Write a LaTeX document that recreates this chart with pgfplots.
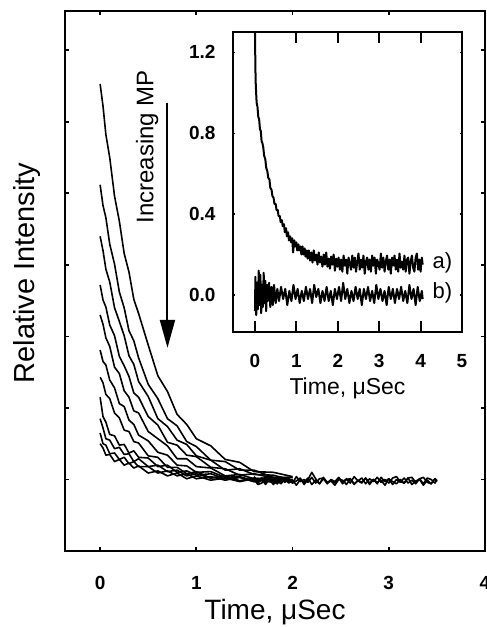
\documentclass[border=0pt]{standalone}
\usepackage{fontspec}
\setmainfont{Liberation Sans}
\usepackage{pgfplots}
\pgfplotsset{compat=1.18}
\usepackage{pgfplotstable}
\usetikzlibrary{arrows.meta}

\pgfplotstableread{
t c1 c2 c3 c4 c5 c6 c7 c8 c9 c10 c11
0.00 6.53 5.12 4.40 3.72 3.30 2.81 2.43 2.15 1.85 1.65 1.50
0.03 6.22 4.83 4.20 3.51 3.17 2.65 2.35 1.88 1.72 1.50 1.44
0.06 5.82 4.66 3.94 3.41 2.98 2.60 2.19 1.80 1.57 1.48 1.34
0.10 5.50 4.29 3.76 3.16 2.86 2.39 2.13 1.63 1.55 1.36 1.35
0.15 4.96 4.01 3.40 3.01 2.57 2.28 1.93 1.61 1.43 1.37 1.25
0.20 4.61 3.62 3.21 2.72 2.48 2.06 1.86 1.48 1.45 1.28 1.28
0.25 4.16 3.40 3.01 2.59 2.24 2.02 1.69 1.49 1.35 1.31 1.20
0.30 3.90 3.08 2.73 2.44 2.15 1.83 1.67 1.37 1.36 1.22 1.23
0.35 3.52 2.94 2.61 2.21 1.96 1.77 1.53 1.40 1.25 1.25 1.16
0.40 3.32 2.70 2.37 2.15 1.93 1.62 1.51 1.31 1.29 1.18 1.19
0.50 2.88 2.33 2.16 1.88 1.67 1.54 1.33 1.30 1.18 1.18 1.09
0.60 2.45 2.13 1.85 1.76 1.57 1.38 1.31 1.18 1.20 1.09 1.12
0.70 2.23 1.85 1.74 1.52 1.47 1.34 1.17 1.20 1.11 1.12 1.05
0.80 1.91 1.75 1.55 1.48 1.29 1.20 1.17 1.10 1.13 1.05 1.09
0.90 1.77 1.53 1.49 1.34 1.29 1.19 1.08 1.12 1.05 1.08 1.01
1.00 1.57 1.46 1.33 1.32 1.18 1.10 1.11 1.06 1.08 1.01 1.05
1.15 1.47 1.27 1.27 1.17 1.16 1.11 1.02 1.08 1.02 1.04 0.99
1.30 1.28 1.25 1.13 1.15 1.05 1.03 1.05 1.01 1.05 0.99 1.02
1.45 1.24 1.13 1.15 1.06 1.07 1.04 0.98 1.03 0.98 1.03 0.97
1.60 1.11 1.13 1.07 1.08 1.01 0.98 1.01 0.97 1.02 0.97 1.01
1.80 1.10 1.03 1.06 1.02 1.03 1.01 0.96 1.01 0.98 1.01 0.96
2.00 1.04 1.03 0.99 1.03 0.98 0.99 0.99 0.97 1.00 0.96 0.99
}\maincurves

\pgfplotstableread{
t y1 y2 y3
1.60 1.02 1.00 1.04
1.64 0.95 0.93 0.97
1.68 1.00 0.95 1.02
1.72 0.93 1.02 0.96
1.76 1.01 1.00 0.99
1.80 0.99 0.93 1.03
1.84 0.94 0.98 0.94
1.88 1.03 0.94 1.01
1.92 0.96 1.01 0.98
1.96 1.01 0.95 1.02
2.00 0.95 0.99 0.95
2.04 0.98 0.92 1.04
2.08 1.02 1.00 0.97
2.12 0.93 0.96 1.00
2.16 1.00 1.02 0.96
2.20 1.10 0.93 1.03
2.24 1.01 0.99 0.95
2.28 0.94 0.94 1.01
2.32 1.03 1.01 1.02
2.36 0.96 0.95 0.94
2.40 0.99 0.98 1.00
2.44 0.95 0.92 0.97
2.48 1.02 1.00 1.03
2.52 0.94 0.99 0.96
2.56 1.00 0.93 1.01
2.60 1.01 1.01 0.95
2.64 0.93 0.94 1.04
2.68 0.99 0.98 0.98
2.72 0.96 0.95 1.02
2.76 1.02 1.02 0.94
2.80 0.95 0.93 1.01
2.84 1.00 1.00 0.97
2.88 0.94 0.96 1.03
2.92 1.03 0.99 0.96
2.96 0.97 0.92 1.00
3.00 1.01 1.01 0.95
3.04 0.93 0.97 1.02
3.08 1.00 0.94 1.04
3.12 0.96 1.00 0.97
3.16 1.02 0.95 0.95
3.20 0.95 1.02 1.02
3.24 0.99 0.93 1.03
3.28 0.94 0.98 0.96
3.32 1.01 1.00 1.01
3.36 1.03 0.92 0.94
3.40 0.96 0.99 1.02
3.44 0.94 0.94 1.00
3.48 1.01 1.01 0.95
3.50 0.98 0.97 1.00
}\tailcurves

\pgfplotstableread{
t y
0.00 1.30
0.01 1.12
0.02 1.03
0.03 0.99
0.04 0.95
0.06 0.93
0.08 0.88
0.10 0.87
0.12 0.82
0.14 0.81
0.16 0.76
0.18 0.75
0.20 0.73
0.22 0.69
0.25 0.67
0.27 0.63
0.30 0.61
0.32 0.58
0.35 0.57
0.37 0.53
0.40 0.52
0.42 0.49
0.45 0.48
0.47 0.45
0.50 0.45
0.52 0.42
0.55 0.42
0.57 0.39
0.60 0.39
0.62 0.36
0.65 0.37
0.67 0.34
0.70 0.35
0.72 0.31
0.75 0.33
0.77 0.29
0.80 0.31
0.82 0.27
0.85 0.29
0.87 0.26
0.90 0.28
0.92 0.21
0.95 0.27
0.97 0.24
1.00 0.26
1.02 0.22
1.05 0.25
1.07 0.22
1.10 0.24
1.12 0.20
1.15 0.24
1.17 0.20
1.20 0.23
1.22 0.19
1.25 0.22
1.27 0.18
1.30 0.22
1.33 0.17
1.36 0.21
1.39 0.16
1.42 0.22
1.45 0.17
1.48 0.20
1.51 0.15
1.54 0.21
1.57 0.16
1.60 0.19
1.63 0.14
1.66 0.20
1.69 0.15
1.72 0.21
1.75 0.14
1.78 0.18
1.81 0.13
1.84 0.19
1.87 0.15
1.90 0.20
1.93 0.12
1.96 0.18
1.99 0.14
2.02 0.185
2.05 0.125
2.08 0.175
2.11 0.115
2.14 0.195
2.17 0.145
2.20 0.175
2.23 0.105
2.26 0.185
2.29 0.155
2.32 0.125
2.35 0.195
2.38 0.135
2.41 0.185
2.44 0.115
2.47 0.165
2.50 0.205
2.53 0.125
2.56 0.175
2.59 0.135
2.62 0.195
2.65 0.105
2.68 0.165
2.71 0.185
2.74 0.125
2.77 0.175
2.80 0.115
2.83 0.195
2.86 0.145
2.89 0.185
2.92 0.105
2.95 0.175
2.98 0.155
3.01 0.125
3.04 0.205
3.07 0.135
3.10 0.185
3.13 0.115
3.16 0.165
3.19 0.195
3.22 0.125
3.25 0.175
3.28 0.105
3.31 0.185
3.34 0.145
3.37 0.195
3.40 0.125
3.43 0.175
3.46 0.115
3.49 0.205
3.52 0.135
3.55 0.165
3.58 0.125
3.61 0.195
3.64 0.115
3.67 0.175
3.70 0.185
3.73 0.105
3.76 0.165
3.79 0.195
3.82 0.135
3.85 0.115
3.88 0.185
3.91 0.205
3.94 0.125
3.97 0.175
4.00 0.115
4.03 0.185
4.05 0.150
}\insetA

\pgfplotstableread{
t y
0.00 -0.08
0.01 0.09
0.03 -0.10
0.05 0.06
0.07 -0.07
0.09 0.12
0.11 -0.05
0.13 0.10
0.15 -0.09
0.17 0.05
0.19 -0.06
0.21 0.11
0.23 -0.04
0.25 0.07
0.27 -0.08
0.29 0.05
0.31 -0.03
0.34 0.06
0.37 -0.06
0.40 0.04
0.43 -0.05
0.46 0.05
0.50 -0.04
0.54 0.03
0.58 -0.03
0.63 0.04
0.68 -0.02
0.73 0.03
0.78 -0.05
0.83 0.02
0.88 -0.03
0.93 0.05
0.98 -0.02
1.03 0.03
1.08 -0.04
1.13 0.02
1.18 -0.03
1.23 0.04
1.28 -0.02
1.33 0.03
1.38 -0.04
1.43 0.05
1.48 -0.01
1.53 0.03
1.58 -0.04
1.63 0.02
1.68 -0.03
1.73 0.04
1.78 -0.03
1.83 0.02
1.88 -0.05
1.93 0.03
1.98 -0.02
2.03 0.04
2.08 -0.03
2.13 0.06
2.18 -0.02
2.23 0.03
2.28 -0.04
2.33 0.02
2.38 -0.03
2.43 0.04
2.48 -0.02
2.53 0.03
2.58 -0.05
2.63 0.03
2.68 -0.02
2.73 0.04
2.78 -0.03
2.83 0.02
2.88 -0.04
2.93 0.05
2.98 -0.02
3.03 0.03
3.08 -0.03
3.13 0.02
3.18 -0.05
3.23 0.04
3.28 -0.02
3.33 0.03
3.38 -0.04
3.43 0.03
3.48 -0.02
3.53 0.04
3.58 -0.03
3.63 0.02
3.68 -0.04
3.73 0.05
3.78 -0.02
3.83 0.03
3.88 -0.05
3.93 0.04
3.98 -0.03
4.03 0.02
4.05 -0.02
}\insetB

\pgfplotsset{
  insetframe/.style={
    at={(84pt,109.5pt)}, anchor=south west,
    scale only axis, width=114.5pt, height=150pt,
    xmin=-0.531, xmax=5, ymin=-0.183, ymax=1.30,
    tick pos=both, tick align=inside,
    axis line style={line width=1pt},
    /pgf/number format/assume math mode=true,
    clip=false,
  },
}

\begin{document}
\begin{tikzpicture}
\begin{axis}[
  name=main, at={(0pt,0pt)}, anchor=south west,
  scale only axis, width=210pt, height=270pt,
  xmin=-0.365, xmax=4, ymin=0, ymax=7.55,
  xtick={0,1,2,3,4}, ytick={1,2,3,4,5,6,7}, yticklabels={},
  tick pos=both, tick align=inside, major tick length=2pt,
  xtick style={draw=black, line width=0.9pt},
  ytick style={draw=black, line width=0.9pt},
  axis line style={line width=1pt},
  /pgf/number format/assume math mode=true,
  xticklabel style={font=\fontsize{9.5}{11}\selectfont\bfseries, yshift=-9pt},
  xlabel={Time, μSec}, ylabel={Relative Intensity},
  xlabel style={font=\fontsize{14}{16}\selectfont, at={(axis description cs:0.5,-0.113)}, anchor=center},
  ylabel style={font=\fontsize{14.5}{17}\selectfont, at={(axis description cs:-0.09,0.515)}, anchor=center},
  clip=false,
]
\pgfplotsinvokeforeach{1,...,11}{\addplot[black, line width=0.8pt, line join=round, mark=none] table[x=t,y=c#1]{\maincurves};}
\addplot[black, line width=0.8pt, line join=round, mark=none] table[x=t,y=y1]{\tailcurves};
\addplot[black, line width=0.8pt, line join=round, mark=none] table[x=t,y=y2]{\tailcurves};
\addplot[black, line width=0.8pt, line join=round, mark=none] table[x=t,y=y3]{\tailcurves};
\pgfplotsinvokeforeach{0,1,2,3}{
  \draw[line width=0.9pt] (axis cs:#1,0) -- ([yshift=2pt]axis cs:#1,0);
  \draw[line width=0.9pt] (axis cs:#1,7.55) -- ([yshift=-2pt]axis cs:#1,7.55);
}
\node[rotate=90, font=\fontsize{12}{14}\selectfont] at (axis cs:0.49,5.65) {Increasing MP};
\draw[line width=1pt, -{Triangle[width=7.5pt,length=14pt]}] (axis cs:0.70,6.27) -- (axis cs:0.70,2.84);
\end{axis}
% inset: y tick labels (tiny ticks)
\begin{axis}[
  insetframe,
  xtick=\empty, ytick={0,0.4,0.8,1.2},
  major tick length=1pt,
  ytick style={draw=black, line width=0.6pt},
  /pgf/number format/fixed,
  /pgf/number format/fixed zerofill,
  /pgf/number format/precision=1,
  yticklabel style={font=\fontsize{9.5}{11}\selectfont\bfseries, xshift=-5.2pt},
]
\end{axis}
% inset: frame, x ticks, data
\begin{axis}[
  insetframe,
  xtick={0,1,2,3,4,5}, ytick=\empty,
  major tick length=5.5pt,
  xtick style={draw=black, line width=1pt},
  xticklabel style={font=\fontsize{9.5}{11}\selectfont\bfseries, yshift=-7.5pt},
  xlabel={Time, μSec},
  xlabel style={font=\fontsize{11.5}{13}\selectfont, at={(axis description cs:0.5,-0.187)}, anchor=center},
]
\addplot[black, line width=1pt, line join=round, mark=none] table[x=t,y=y]{\insetA};
\addplot[black, line width=1pt, line join=round, mark=none] table[x=t,y=y]{\insetB};
\pgfplotsinvokeforeach{0,1,2,3,4}{
  \draw[line width=1pt] (axis cs:#1,-0.183) -- ([yshift=5.5pt]axis cs:#1,-0.183);
  \draw[line width=1pt] (axis cs:#1,1.30) -- ([yshift=-5.5pt]axis cs:#1,1.30);
}
\node[anchor=west, inner sep=0pt, font=\fontsize{11}{13}\selectfont] at (axis cs:4.28,0.157) {a)};
\node[anchor=west, inner sep=0pt, font=\fontsize{11}{13}\selectfont] at (axis cs:4.28,0.01) {b)};
\end{axis}
\pgfresetboundingbox
\path[use as bounding box] (-32.5pt,-38pt) rectangle (211pt,275.5pt);
\end{tikzpicture}
\end{document}
